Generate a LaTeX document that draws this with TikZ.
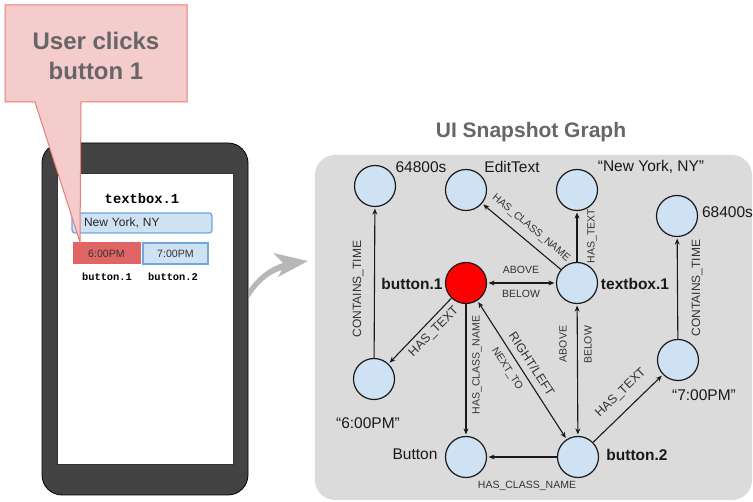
\documentclass[tikz,border=0pt]{standalone}
\usepackage{fontspec}
\setmainfont{Liberation Sans}
\newfontfamily\phonemono{Liberation Mono}
\usetikzlibrary{arrows.meta}
\definecolor{calloutfill}{HTML}{F4CCCC}
\definecolor{calloutdraw}{HTML}{EA7B77}
\definecolor{calltext}{HTML}{666666}
\definecolor{phonedark}{HTML}{434343}
\definecolor{panelgray}{HTML}{DBDBDB}
\definecolor{nodeblue}{HTML}{CFE2F3}
\definecolor{boxblue}{HTML}{6FA8DC}
\definecolor{btnred}{HTML}{E06666}
\definecolor{arrowgray}{HTML}{B7B7B7}
\definecolor{edgecol}{HTML}{1A1A1A}
\definecolor{lblcol}{HTML}{333333}
\begin{document}
\begin{tikzpicture}[x=1pt,y=-1pt,
 gnode/.style={circle, draw=edgecol, line width=1.2pt, fill=nodeblue, minimum size=41pt, inner sep=0pt},
 nlabel/.style={font=\fontsize{15.5}{18}\selectfont, text=black!90, inner sep=0pt},
 nbold/.style={font=\fontsize{15.5}{18}\selectfont\bfseries, text=black!90, inner sep=0pt},
 elabel/.style={font=\fontsize{10.5}{12}\selectfont, text=lblcol, inner sep=0pt},
 elbig/.style={font=\fontsize{12.5}{14}\selectfont, text=lblcol, inner sep=0pt},
 gedge/.style={draw=edgecol, line width=1.1pt, -{Stealth[length=6pt,width=5pt]}, shorten >=1.5pt},
 gdedge/.style={draw=edgecol, line width=1.1pt, {Stealth[length=6pt,width=5pt]}-{Stealth[length=6pt,width=5pt]}, shorten >=1.5pt, shorten <=1.5pt},
 monolbl/.style={font=\phonemono\bfseries\fontsize{10.4}{12}\selectfont, inner sep=0pt},
]
\useasboundingbox (0,0) rectangle (753,502);

% ---------- phone ----------
\node[draw=black, line width=0.8pt, fill=phonedark, rounded corners=20pt, minimum width=206pt, minimum height=352pt, inner sep=0pt] (phone) at (145,319) {};
\node[draw=black!80, line width=0.6pt, fill=white, minimum width=176pt, minimum height=291pt, inner sep=0pt] (screen) at (145,318.5) {};
\node[font=\phonemono\bfseries\fontsize{13.8}{15}\selectfont, inner sep=0pt] (tblbl) at (142,199) {textbox.1};
\node[draw=boxblue, line width=1.3pt, fill=nodeblue, rounded corners=3pt, minimum width=140pt, minimum height=20pt, text width=116pt, inner xsep=12pt, inner ysep=0pt, align=left, font=\fontsize{12}{14}\selectfont, text=black!85] (tbox) at (142,223) {New York, NY};
\node[draw=btnred, line width=1pt, fill=btnred, minimum width=67pt, minimum height=21pt, inner sep=0pt, font=\fontsize{10.6}{12}\selectfont, text=black!80] (btn1) at (106.5,253.5) {6:00PM};
\node[draw=boxblue, line width=1.3pt, fill=nodeblue, minimum width=65pt, minimum height=21pt, inner sep=0pt, font=\fontsize{10.6}{12}\selectfont, text=black!80] (btn2) at (175.5,253.5) {7:00PM};
\node[monolbl] (b1lbl) at (107,277) {button.1};
\node[monolbl] (b2lbl) at (173,277) {button.2};

% ---------- callout ----------
\draw[fill=calloutfill, draw=calloutdraw, line width=1pt] (5,5) -- (187,5) -- (187,102) -- (81,102) -- (80,242) -- (35,102) -- (5,102) -- cycle;
\node[font=\fontsize{24}{30}\selectfont\bfseries, text=calltext, align=center, inner sep=0pt] (calltxt) at (96,56) {User clicks\\button 1};

% ---------- transition arrow (tapered curved arrow) ----------
\fill[arrowgray] (249,289) .. controls (258,276) and (270,267) .. (283,263) -- (273,253) -- (308,261) -- (278,277) -- (282,270) .. controls (268,274) and (257,285) .. (249,298) -- cycle;

% ---------- graph panel ----------
\node[fill=panelgray, rounded corners=20pt, minimum width=437pt, minimum height=345pt, inner sep=0pt] (panel) at (533.5,327.5) {};
\node[font=\fontsize{21}{24}\selectfont\bfseries, text=calltext, inner sep=0pt] (title) at (531,132) {UI Snapshot Graph};

\node[gnode] (n64) at (375,186) {};
\node[gnode] (nET) at (466,190) {};
\node[gnode] (nNY) at (577,190) {};
\node[gnode] (n68) at (677,216) {};
\node[gnode, fill=red] (b1) at (466,283) {};
\node[gnode] (tb) at (577,283) {};
\node[gnode] (t6) at (374,379) {};
\node[gnode] (t7) at (678,360) {};
\node[gnode] (nBtn) at (466,457) {};
\node[gnode] (b2) at (578,457) {};

% node labels
\node[nlabel] at (421,167) {64800s};
\node[nlabel] at (512,167) {EditText};
\node[nlabel] at (651,167) {“New York, NY”};
\node[nlabel] at (727.5,212) {68400s};
\node[nbold] at (412,284) {button.1};
\node[nbold] at (635,284) {textbox.1};
\node[nlabel] at (368,423) {“6:00PM”};
\node[nlabel] at (704,395) {“7:00PM”};
\node[nlabel] at (415,454) {Button};
\node[nbold] at (637,455) {button.2};

% edges
\draw[gedge] (t6) -- (n64);
\draw[gedge] (t7) -- (n68);
\draw[gedge] (tb) -- (nET);
\draw[gedge] (tb) -- (nNY);
\draw[gdedge] (b1) -- (tb);
\draw[gedge] (b1) -- (t6);
\draw[gedge] (b1) -- (nBtn);
\draw[gdedge] (b1) -- (b2);
\draw[gdedge] (tb) -- (b2);
\draw[gedge] (b2) -- (nBtn);
\draw[gedge] (b2) -- (t7);

% edge labels
\node[font=\fontsize{12}{14}\selectfont, text=lblcol, inner sep=0pt, rotate=90] at (358,289) {CONTAINS\_TIME};
\node[font=\fontsize{12}{14}\selectfont, text=lblcol, inner sep=0pt, rotate=90] at (697,288) {CONTAINS\_TIME};
\node[elabel, rotate=-40] at (531,228) {HAS\_CLASS\_NAME};
\node[elabel, rotate=90] at (592,236) {HAS\_TEXT};
\node[elabel] at (521,270) {ABOVE};
\node[elabel] at (521,294) {BELOW};
\node[elbig, rotate=45] at (434,332) {HAS\_TEXT};
\node[elabel, rotate=90] at (477,365) {HAS\_CLASS\_NAME};
\node[elbig, rotate=-57] at (532,364) {RIGHT/LEFT};
\node[elabel, rotate=-57] at (507,369) {NEXT\_TO};
\node[elabel, rotate=90] at (563,344) {ABOVE};
\node[elabel, rotate=90] at (588,345) {BELOW};
\node[elbig, rotate=44] at (621,393) {HAS\_TEXT};
\node[elabel] at (527,486) {HAS\_CLASS\_NAME};
\end{tikzpicture}
\end{document}
